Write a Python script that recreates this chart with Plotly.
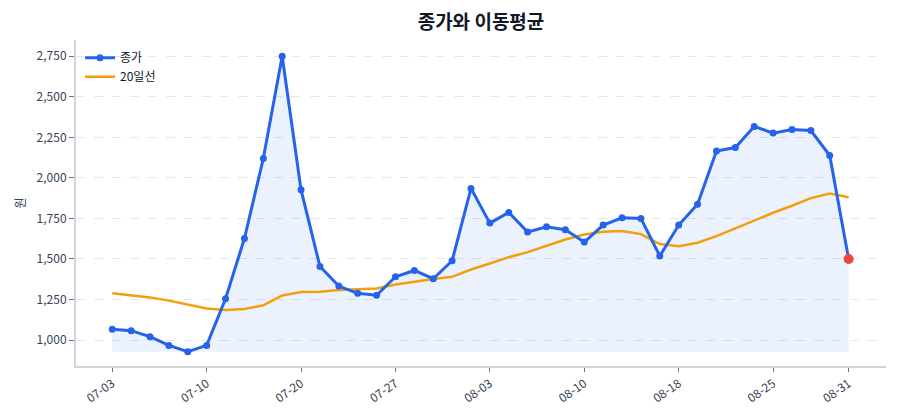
import plotly.graph_objects as go

dates = ['07-03', '07-04', '07-05', '07-06', '07-07', '07-10', '07-11', '07-12', '07-13', '07-14',
         '07-20', '07-21', '07-24', '07-25', '07-26', '07-27', '07-28', '07-31', '08-01', '08-02',
         '08-03', '08-04', '08-07', '08-08', '08-09', '08-10', '08-11', '08-14', '08-16', '08-17',
         '08-18', '08-21', '08-22', '08-23', '08-24', '08-25', '08-28', '08-29', '08-30', '08-31']
close = [1066, 1058, 1021, 967, 928, 967, 1255, 1626, 2119, 2750,
         1926, 1454, 1333, 1288, 1276, 1390, 1429, 1378, 1489, 1935,
         1721, 1787, 1666, 1698, 1680, 1604, 1709, 1754, 1750, 1518,
         1709, 1838, 2165, 2187, 2317, 2276, 2298, 2292, 2138, 1500]
ma20 = [1288, 1277, 1263, 1243, 1220, 1195, 1185, 1191, 1214, 1275,
        1296, 1298, 1308, 1314, 1318, 1343, 1361, 1376, 1390, 1435,
        1472, 1511, 1542, 1581, 1620, 1651, 1668, 1672, 1653, 1592,
        1579, 1600, 1641, 1688, 1739, 1785, 1828, 1875, 1904, 1881]
tick_dates = ['07-03', '07-10', '07-20', '07-27', '08-03', '08-10', '08-18', '08-25', '08-31']

BLUE = '#2563eb'
ORANGE = '#f59e0b'
base = min(close)

fig = go.Figure()
# area under the close line, down to the lowest close
fig.add_trace(go.Scatter(x=dates, y=[base] * len(dates), mode='lines', line_width=0,
                         showlegend=False, hoverinfo='skip'))
fig.add_trace(go.Scatter(x=dates, y=close, mode='lines', line_width=0, fill='tonexty',
                         fillcolor='rgba(37,99,235,0.09)', showlegend=False, hoverinfo='skip'))
fig.add_trace(go.Scatter(x=dates, y=ma20, mode='lines', name='20일선', legendrank=2,
                         line=dict(color=ORANGE, width=2.5)))
fig.add_trace(go.Scatter(x=dates, y=close, mode='lines+markers', name='종가', legendrank=1,
                         line=dict(color=BLUE, width=3), marker=dict(size=7, color=BLUE)))
fig.add_trace(go.Scatter(x=dates[-1:], y=close[-1:], mode='markers', showlegend=False,
                         marker=dict(size=10, color='#ef4444')))

fig.update_layout(
    width=900, height=420, autosize=False,
    template='simple_white',
    font=dict(family='Noto Sans CJK KR', size=12, color='#374151'),
    title=dict(text='<b>종가와 이동평균</b>', x=0.5, xref='paper', xanchor='center',
               y=0.965, yanchor='middle', font=dict(size=19, color='#111827')),
    margin=dict(l=68, r=22, t=32, b=62),
    legend=dict(x=0.005, y=0.99, xanchor='left', yanchor='top', bgcolor='rgba(0,0,0,0)',
                traceorder='normal', font=dict(size=12, color='#111827')),
    plot_bgcolor='white',
)
fig.update_xaxes(type='category', range=[-1.92, 40.98], tickmode='array', tickvals=tick_dates,
                 tickangle=-35, ticks='outside', ticklen=4, tickcolor='#6b7280', automargin=False,
                 showline=True, linecolor='#d1d5db', linewidth=2, showgrid=False,
                 tickfont=dict(size=12, color='#374151'))
fig.update_yaxes(range=[840, 2850], tickvals=[1000, 1250, 1500, 1750, 2000, 2250, 2500, 2750],
                 tickformat=',', ticks='outside', ticklen=5, tickcolor='#6b7280', automargin=False,
                 showline=True, linecolor='#d1d5db', linewidth=2,
                 showgrid=True, gridcolor='#e5e7eb', griddash='dash', gridwidth=1,
                 title=dict(text='원', standoff=8, font=dict(size=12)),
                 tickfont=dict(size=12, color='#374151'))

fig.write_html("out.html")
